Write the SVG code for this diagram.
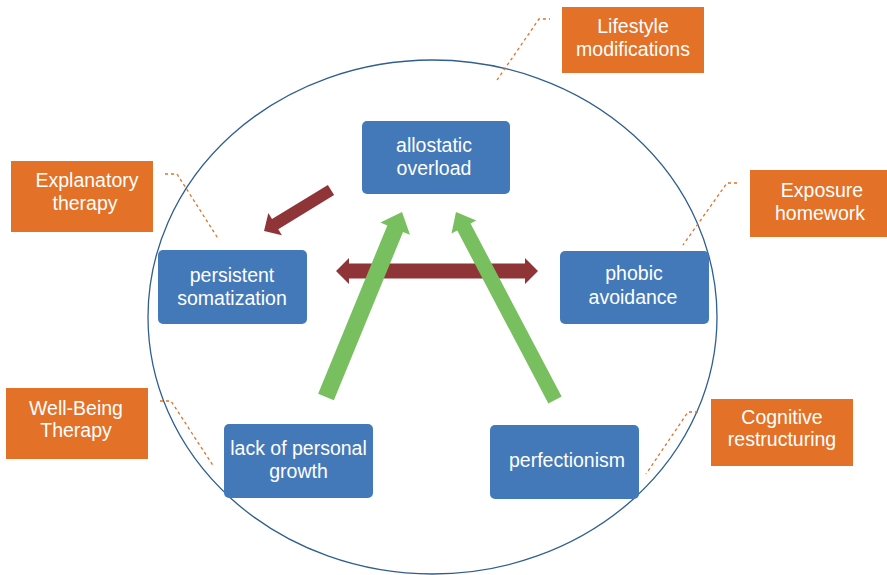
<svg xmlns="http://www.w3.org/2000/svg" width="887" height="575" viewBox="0 0 887 575">
<style>
.node{fill:#4479B9;}
.tool{fill:#E37127;}
.t{font-family:"Liberation Sans",Arial,sans-serif;font-size:19.5px;fill:#ffffff;text-anchor:middle;}
.lead{fill:none;stroke:#E37127;stroke-width:1.3;stroke-dasharray:3,3;}
.red{fill:#8F3537;}
.green{fill:#78BF60;}
</style>
<rect width="887" height="575" fill="#ffffff"/>
<ellipse cx="432.5" cy="317" rx="284.5" ry="257" fill="none" stroke="#2F5F8F" stroke-width="1.3"/>
<g id="leaders">
<polyline class="lead" points="497,80 539,19 550,19"/>
<polyline class="lead" points="165,174 177,174 219,240"/>
<polyline class="lead" points="160,401 171,401 214,467"/>
<polyline class="lead" points="698,412 688,412 646,474"/>
<polyline class="lead" points="737,183 727,183 683,245"/>
</g>
<g id="allostatic-overload"><rect class="node" x="362" y="121" width="148" height="73" rx="5"/><text class="t" x="434" y="152">allostatic</text><text class="t" x="434" y="175">overload</text></g>
<g id="persistent-somatization"><rect class="node" x="158" y="250" width="149" height="74" rx="5"/><text class="t" x="232" y="282">persistent</text><text class="t" x="232" y="305">somatization</text></g>
<g id="phobic-avoidance"><rect class="node" x="560" y="251" width="149" height="73" rx="5"/><text class="t" x="634" y="280">phobic</text><text class="t" x="633" y="304">avoidance</text></g>
<g id="lack-of-personal-growth"><rect class="node" x="224" y="424" width="149" height="74" rx="5"/><text class="t" x="298.5" y="455">lack of personal</text><text class="t" x="298.5" y="478">growth</text></g>
<g id="perfectionism"><rect class="node" x="490" y="425" width="149" height="74" rx="5"/><text class="t" x="567" y="467">perfectionism</text></g>
<g id="lifestyle-modifications"><rect class="tool" x="562" y="7" width="142" height="66"/><text class="t" x="633" y="33">Lifestyle</text><text class="t" x="633" y="56">modifications</text></g>
<g id="explanatory-therapy"><rect class="tool" x="11" y="161" width="142" height="71"/><text class="t" x="87" y="187">Explanatory</text><text class="t" x="85" y="210">therapy</text></g>
<g id="well-being-therapy"><rect class="tool" x="6" y="388" width="142" height="71"/><text class="t" x="76" y="415">Well-Being</text><text class="t" x="76" y="437">Therapy</text></g>
<g id="cognitive-restructuring"><rect class="tool" x="711" y="399" width="142" height="67"/><text class="t" x="782" y="424">Cognitive</text><text class="t" x="782" y="446">restructuring</text></g>
<g id="exposure-homework"><rect class="tool" x="750" y="170" width="137" height="67"/><text class="t" x="822" y="197">Exposure</text><text class="t" x="820" y="220">homework</text></g>
<g id="connectors">
<polygon class="red" transform="translate(331,190) rotate(148.54)" points="0,-6 65.5,-6 65.5,-13 78.5,0 65.5,13 65.5,6 0,6"/>
<polygon class="red" points="336,271 349,258 349,263.5 525,263.5 525,258 538,271 525,284 525,278.5 349,278.5 349,284"/>
<polygon class="green" transform="translate(326,397) rotate(-67.66)" points="0,-8.5 182,-8.5 182,-16 200,0 182,16 182,8.5 0,8.5"/>
<polygon class="green" transform="translate(555,400) rotate(-117.77)" points="0,-7.5 195.5,-7.5 195.5,-14 212.5,0 195.5,14 195.5,7.5 0,7.5"/>
</g>
</svg>
